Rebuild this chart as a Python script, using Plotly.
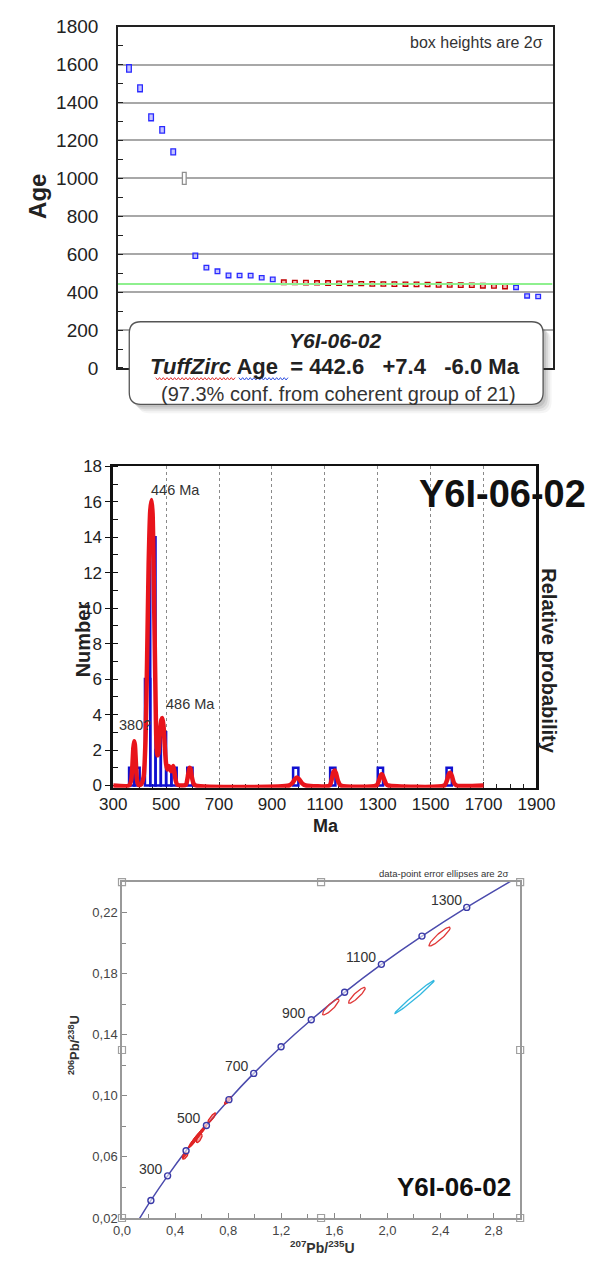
import numpy as np
import plotly.graph_objects as go

W, H = 598, 1270
FONT = "Liberation Sans, Arial, sans-serif"

# ---------------- Panel 1: ranked zircon ages, box heights 2 sigma ----------------
older_ages = [1580, 1475, 1322, 1256, 1140]
older_err = [20, 18, 18, 17, 16]
rejected_ages = [1000]
rejected_err = [32]
inherited_ages = [592, 529, 510, 488, 488, 487, 476, 467]
inherited_err = [14, 12, 12, 12, 11, 12, 11, 12]
coherent_ages = [452, 451, 450, 449, 448, 447, 446, 445, 444, 443, 442.6,
                 442, 441, 440, 439, 438, 437, 436, 434, 432, 430]
coherent_err = [12, 11, 12, 11, 12, 11, 12, 11, 12, 11, 12,
                11, 12, 11, 12, 11, 12, 11, 12, 11, 12]
young_ages = [425, 380, 377]
young_err = [11, 11, 11]

sample_name = "Y6I-06-02"
tuffzirc_age = 442.6
tuffzirc_plus = 7.4
tuffzirc_minus = 6.0
tuffzirc_conf = 97.3
tuffzirc_n = 21

# ---------------- Panel 2: age histogram and probability curve ----------------
bin_start = [360, 380, 420, 440, 460, 480, 500, 520, 580, 980, 1120, 1300, 1560]
bin_count = [1, 1, 6, 14, 2, 3, 1, 1, 1, 1, 1, 1, 1]
bin_width = 20

prob_ma = [300, 360, 368, 372, 376, 379, 382, 386, 390, 396,
           405, 415, 422, 428, 434, 440, 445, 449, 454, 459, 463, 467, 471,
           476, 482, 486, 490, 495, 500, 505, 510, 514, 518, 522, 527, 531, 536, 542, 560,
           575, 582, 588, 592, 597, 604, 612,
           965, 978, 988, 995, 1003, 1014, 1028,
           1118, 1126, 1132, 1137, 1142, 1150, 1160,
           1295, 1305, 1312, 1317, 1323, 1332, 1340,
           1552, 1562, 1569, 1574, 1580, 1588, 1598, 1700]
prob_val = [0, 0, 0.3, 1.0, 2.1, 2.5, 2.3, 1.2, 0.3, 0.02,
            0.05, 0.5, 2.5, 7.0, 12.5, 15.5, 16.1, 15.3, 11.0, 6.0, 2.6, 1.7, 1.8,
            2.9, 3.7, 3.8, 3.4, 2.2, 1.2, 0.9, 1.1, 1.0, 0.8, 0.9, 1.1, 0.8, 0.3, 0.05, 0,
            0.05, 0.5, 1.0, 0.95, 0.5, 0.1, 0,
            0, 0.15, 0.38, 0.45, 0.35, 0.12, 0,
            0, 0.35, 0.75, 0.85, 0.7, 0.25, 0,
            0, 0.3, 0.6, 0.62, 0.4, 0.08, 0,
            0, 0.3, 0.65, 0.72, 0.55, 0.15, 0, 0]
peak_ma = [446, 486, 380]
peak_height = [16.1, 3.8, 2.5]
peak_label = ["446 Ma", "486 Ma", "380?"]

# ---------------- Panel 3: concordia diagram ----------------
conc_age = [100, 200, 300, 400, 500, 600, 700, 800, 900, 1000, 1100, 1200, 1300, 1400]
conc_x = [0.1035, 0.2177, 0.3437, 0.4828, 0.6363, 0.8058, 0.9925, 1.1987, 1.4263,
          1.6774, 1.9545, 2.2603, 2.5977, 2.9700]
conc_y = [0.0156, 0.0315, 0.0476, 0.0640, 0.0806, 0.0975, 0.1147, 0.1321, 0.1498,
          0.1678, 0.1861, 0.2046, 0.2234, 0.2426]
conc_labelled = [300, 500, 700, 900, 1100, 1300]

# error ellipses: centre, 2-sigma half widths, error correlation
ell_cx = [0.476, 0.470, 0.522, 0.530, 0.536, 0.542, 0.547, 0.550, 0.555, 0.558, 0.562,
          0.565, 0.569, 0.573, 0.578, 0.582, 0.590, 0.597, 0.604, 0.620,
          0.676, 0.798, 1.573, 1.770, 2.393, 2.205]
ell_cy = [0.0605, 0.0612, 0.0684, 0.0690, 0.0700, 0.0706, 0.0710, 0.0716, 0.0720, 0.0723,
          0.0727, 0.0732, 0.0736, 0.0740, 0.0745, 0.0722, 0.0757, 0.0765, 0.0773, 0.0790,
          0.0856, 0.0970, 0.1582, 0.1658, 0.2043, 0.1648]
ell_sx = [0.020, 0.016, 0.022, 0.022, 0.020, 0.022, 0.020, 0.024, 0.022, 0.022, 0.020,
          0.024, 0.020, 0.022, 0.020, 0.022, 0.022, 0.020, 0.022, 0.020,
          0.030, 0.026, 0.062, 0.063, 0.080, 0.148]
ell_sy = [0.0020, 0.0017, 0.0024, 0.0024, 0.0022, 0.0025, 0.0022, 0.0026, 0.0024, 0.0024,
          0.0022, 0.0026, 0.0022, 0.0024, 0.0022, 0.0028, 0.0024, 0.0022, 0.0024, 0.0022,
          0.0032, 0.0025, 0.0052, 0.0052, 0.0062, 0.0108]
ell_rho = [0.7, 0.8, 0.9, 0.9, 0.9, 0.9, 0.9, 0.9, 0.9, 0.9, 0.9,
           0.9, 0.9, 0.9, 0.9, 0.7, 0.9, 0.9, 0.9, 0.9,
           0.88, 0.85, 0.88, 0.90, 0.92, 0.99]
ell_group = ["young"] * 22 + ["old"] * 3 + ["discordant"]


def px(x):
    return x / W


def py(y):
    return 1 - y / H


def note(text, x, y, size, xanchor="center", yanchor="middle", angle=0,
         color="#222", **kw):
    return dict(text=text, x=px(x), y=py(y), xref="paper", yref="paper",
                showarrow=False, textangle=angle, xanchor=xanchor, yanchor=yanchor,
                font=dict(family=FONT, size=size, color=color), **kw)


fig = go.Figure()

# ---- panel 1 traces
n_old = len(older_ages)
ranks_old = list(range(1, n_old + 1))
ranks_rej = [n_old + 1]
start = n_old + 2
ranks_inh = list(range(start, start + len(inherited_ages)))
start += len(inherited_ages)
ranks_coh = list(range(start, start + len(coherent_ages)))
start += len(coherent_ages)
ranks_young = list(range(start, start + len(young_ages)))
n_total = start + len(young_ages) - 1
x1_max = n_total + 1.3

fig.add_trace(go.Scatter(x=[0, x1_max], y=[tuffzirc_age, tuffzirc_age], mode="lines",
                         line=dict(color="#8ef08e", width=2), xaxis="x", yaxis="y",
                         hoverinfo="skip"))


def add_boxes(ranks, ages, errs, fill, edge, width):
    fig.add_trace(go.Bar(x=ranks, y=[2 * e for e in errs],
                         base=[a - e for a, e in zip(ages, errs)],
                         width=width, marker=dict(color=fill, line=dict(color=edge, width=1.3)),
                         xaxis="x", yaxis="y"))


add_boxes(ranks_old, older_ages, older_err, "rgba(150,150,255,0.55)", "#2a2aff", 0.42)
add_boxes(ranks_inh, inherited_ages, inherited_err, "rgba(150,150,255,0.55)", "#2a2aff", 0.42)
add_boxes(ranks_young, young_ages, young_err, "rgba(150,150,255,0.55)", "#2a2aff", 0.42)
add_boxes(ranks_rej, rejected_ages, rejected_err, "rgba(255,255,255,1)", "#909090", 0.34)
add_boxes(ranks_coh, coherent_ages, coherent_err, "rgba(240,120,120,0.55)", "#c00000", 0.42)

# ---- panel 2 traces
fig.add_trace(go.Bar(x=bin_start, y=bin_count, width=bin_width, offset=0,
                     marker=dict(color="rgba(255,255,255,0)", line=dict(color="#1010d0", width=2.5)),
                     xaxis="x2", yaxis="y2"))
fig.add_trace(go.Scatter(x=prob_ma, y=prob_val, mode="lines",
                         line=dict(color="#e8141b", width=4.5, shape="spline", smoothing=0.6),
                         xaxis="x2", yaxis="y2"))

# ---- panel 3 traces
fig.add_trace(go.Scatter(x=conc_x, y=conc_y, mode="lines",
                         line=dict(color="#4b4bad", width=1.5, shape="spline", smoothing=0.8),
                         xaxis="x3", yaxis="y3"))

theta = np.linspace(0, 2 * np.pi, 73)
ell_style = {"young": ("#e02525", "rgba(235,50,50,0.45)"),
             "old": ("#e03838", None),
             "discordant": ("#33b8e0", None)}
for cx, cy, sx, sy, r, g in zip(ell_cx, ell_cy, ell_sx, ell_sy, ell_rho, ell_group):
    ex = cx + sx * np.cos(theta)
    ey = cy + sy * (r * np.cos(theta) + np.sqrt(1 - r * r) * np.sin(theta))
    edge, fill = ell_style[g]
    fig.add_trace(go.Scatter(x=ex, y=ey, mode="lines", line=dict(color=edge, width=1.3),
                             fill="toself" if fill else None, fillcolor=fill,
                             xaxis="x3", yaxis="y3"))

mk = [i for i, a in enumerate(conc_age) if 200 <= a <= 1300]
fig.add_trace(go.Scatter(x=[conc_x[i] for i in mk], y=[conc_y[i] for i in mk], mode="markers",
                         marker=dict(symbol="circle", size=6, color="rgba(255,255,255,0.6)",
                                     line=dict(color="#3a3aa8", width=1.4)),
                         xaxis="x3", yaxis="y3"))

# frame handles at corners and mid-edges of the concordia plot
hx, hy = [], []
for xv in (0, 1.5, 3.0):
    for yv in (0.02, 0.13, 0.24):
        if not (xv == 1.5 and yv == 0.13):
            hx.append(xv)
            hy.append(yv)
fig.add_trace(go.Scatter(x=hx, y=hy, mode="markers", cliponaxis=False,
                         marker=dict(symbol="square", size=7, color="white",
                                     line=dict(color="#a0a0a0", width=1.2)),
                         xaxis="x3", yaxis="y3"))

# ---------------- shapes ----------------
shapes = []


def rounded(x0, y0, x1, y1, r):
    return (f"M {px(x0 + r)},{py(y0)} L {px(x1 - r)},{py(y0)} "
            f"Q {px(x1)},{py(y0)} {px(x1)},{py(y0 + r)} L {px(x1)},{py(y1 - r)} "
            f"Q {px(x1)},{py(y1)} {px(x1 - r)},{py(y1)} L {px(x0 + r)},{py(y1)} "
            f"Q {px(x0)},{py(y1)} {px(x0)},{py(y1 - r)} L {px(x0)},{py(y0 + r)} "
            f"Q {px(x0)},{py(y0)} {px(x0 + r)},{py(y0)} Z")


bx0, by0, bx1, by1 = 122, 317, 560, 401
for off, op in ((9, 0.05), (7, 0.07), (5, 0.10), (3, 0.12)):
    shapes.append(dict(type="path", xref="paper", yref="paper",
                       path=rounded(bx0 + off, by0 + off, bx1 + off, by1 + off, 12),
                       fillcolor=f"rgba(60,60,60,{op})", line=dict(width=0)))
shapes.append(dict(type="path", xref="paper", yref="paper",
                   path=rounded(bx0, by0, bx1, by1, 12),
                   fillcolor="white", line=dict(color="#555", width=1.3)))


def squiggle(x0, x1, y, color):
    xs = np.arange(x0, x1 + 0.1, 2.0)
    pts = [f"{px(x)},{py(y + (1.2 if i % 2 else -1.2))}" for i, x in enumerate(xs)]
    return dict(type="path", xref="paper", yref="paper", path="M " + " L ".join(pts),
                line=dict(color=color, width=1))


shapes.append(squiggle(150, 234, 375, "#e03030"))
shapes.append(squiggle(238, 290, 375, "#3050e0"))

# ---------------- annotations ----------------
ann = [
    note("<b>Age</b>", 25.5, 190, 24, angle=-90),
    note("box heights are 2σ", 562, 33, 16, xanchor="right", color="#333"),
    note(f"<b><i>{sample_name}</i></b>", 340, 336, 21),
    note(f"<b><i>TuffZirc</i> Age\u00a0\u00a0= {tuffzirc_age:.1f}\u00a0\u00a0\u00a0+{tuffzirc_plus:.1f}"
         f"\u00a0\u00a0\u00a0-{tuffzirc_minus:.1f} Ma</b>", 340, 363, 22),
    note(f"({tuffzirc_conf:.1f}% conf. from coherent group of {tuffzirc_n})", 343, 390, 20, color="#333"),
    note("<b>Number</b>", 74, 640, 20, angle=-90),
    note("<b>Relative probability</b>", 566, 662, 20, angle=90),
    note("<b>Ma</b>", 330, 830, 18),
    note(f"<b>{sample_name}</b>", 427, 492, 38, xanchor="left", color="#111"),
    note("data-point error ellipses are 2σ", 526, 878, 9.5, xanchor="right", color="#333"),
    note(f"<b>{sample_name}</b>", 403, 1197, 26, xanchor="left", color="#111"),
    note("<b><sup>206</sup>Pb/<sup>238</sup>U</b>", 63, 1053, 13, angle=-90, color="#333"),
    note("<b><sup>207</sup>Pb/<sup>235</sup>U</b>", 327, 1258, 14, color="#333"),
]
peak_anchor = {"446 Ma": ("left", -3, 0), "486 Ma": ("left", 2, 4), "380?": ("center", 1, 6)}
for m, h, t in zip(peak_ma, peak_height, peak_label):
    xa, xs, ys = peak_anchor[t]
    ann.append(dict(text=t, x=m, y=h, xref="x2", yref="y2", showarrow=False,
                    xanchor=xa, yanchor="bottom", xshift=xs, yshift=ys,
                    font=dict(family=FONT, size=14.5, color="#333")))
for a in conc_labelled:
    i = conc_age.index(a)
    ann.append(dict(text=str(a), x=conc_x[i], y=conc_y[i], xref="x3", yref="y3",
                    showarrow=False, xanchor="right", yanchor="middle", xshift=-3, yshift=7,
                    font=dict(family=FONT, size=14, color="#333")))

# ---------------- axes ----------------
tick_font = dict(family=FONT, size=19, color="#222")
fig.update_layout(
    width=W, height=H, margin=dict(l=0, r=0, t=0, b=0),
    paper_bgcolor="white", plot_bgcolor="white", showlegend=False,
    barmode="overlay", separators=", ", font=dict(family=FONT),
    shapes=shapes, annotations=ann,
    xaxis=dict(domain=[px(110), px(570)], range=[0, x1_max], anchor="y",
               showticklabels=False, ticks="", showgrid=False, zeroline=False,
               showline=True, linecolor="#222", linewidth=1.5, mirror=True),
    yaxis=dict(domain=[py(364), py(17)], range=[0, 1800], anchor="x",
               tickvals=list(range(0, 1801, 200)), tickformat="d", tickfont=tick_font,
               ticks="", showgrid=True, gridcolor="#a8a8a8", gridwidth=1.5, zeroline=False,
               showline=True, linecolor="#222", linewidth=1.5, mirror=True,
               ticklabelstandoff=14,
               minor=dict(ticks="inside", ticklen=5, dtick=100, tickcolor="#222", showgrid=False)),
    xaxis2=dict(domain=[px(105), px(553)], range=[300, 1900], anchor="y2",
                tickvals=list(range(300, 1901, 200)), tickfont=dict(family=FONT, size=17, color="#222"),
                ticks="inside", ticklen=6, tickcolor="#222",
                showgrid=True, griddash="dot", gridcolor="#8a8a8a", gridwidth=1, zeroline=False,
                showline=True, linecolor="#111", linewidth=2, mirror=True, layer="below traces",
                minor=dict(ticks="inside", ticklen=4, dtick=50, tick0=300, tickcolor="#222", showgrid=False)),
    yaxis2=dict(domain=[py(790.7), py(464)], range=[-0.12, 18], anchor="x2",
                tickvals=list(range(0, 19, 2)), tickfont=dict(family=FONT, size=17, color="#222"),
                ticks="outside", ticklen=5, tickcolor="#111",
                showgrid=False, zeroline=False,
                showline=True, linecolor="#111", linewidth=2.5, mirror=True, layer="below traces",
                minor=dict(ticks="inside", ticklen=5, dtick=1, tickcolor="#111")),
    xaxis3=dict(domain=[px(114.3), px(535.7)], range=[0, 3.0], anchor="y3",
                tickvals=[round(0.4 * k, 1) for k in range(8)], tickformat=".1f",
                tickfont=dict(family=FONT, size=13, color="#444"),
                ticks="inside", ticklen=5, tickcolor="#888", showgrid=False, zeroline=False,
                showline=True, linecolor="#999", linewidth=1.5, mirror=True,
                minor=dict(ticks="inside", ticklen=4, dtick=0.2, tick0=0, tickcolor="#888")),
    yaxis3=dict(domain=[py(1228.3), py(886.7)], range=[0.02, 0.24], anchor="x3",
                tickvals=[round(0.02 + 0.04 * k, 2) for k in range(6)], tickformat=".2f",
                tickfont=dict(family=FONT, size=13, color="#444"),
                ticks="inside", ticklen=5, tickcolor="#888", showgrid=False, zeroline=False,
                showline=True, linecolor="#999", linewidth=1.5, mirror=True,
                minor=dict(ticks="inside", ticklen=4, dtick=0.02, tick0=0.02, tickcolor="#888")),
)

fig.write_html("out.html")
